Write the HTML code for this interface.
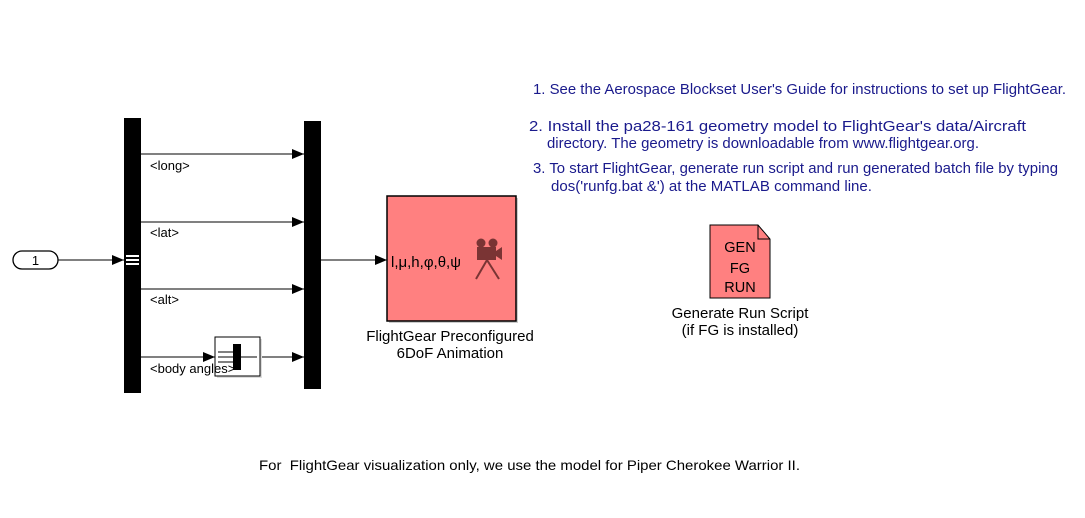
<!DOCTYPE html>
<html><head><meta charset="utf-8"><style>
html,body{margin:0;padding:0;background:#fff;}
svg{display:block;}
text{font-family:"Liberation Sans",Arial,sans-serif;}
</style></head><body>
<svg width="1085" height="518" viewBox="0 0 1085 518" xmlns="http://www.w3.org/2000/svg">
<defs>
<marker id="a" markerWidth="12" markerHeight="10" refX="12" refY="5" orient="auto" markerUnits="userSpaceOnUse"><path d="M0,0 L12,5 L0,10 Z" fill="#000"/></marker>
</defs>
<rect x="13" y="251" width="45" height="18" rx="9" ry="9" fill="#fff" stroke="#000" stroke-width="1.3"/>
<text x="35.5" y="265" font-size="13" text-anchor="middle">1</text>
<line x1="58" y1="260" x2="124" y2="260" stroke="#000" marker-end="url(#a)"/>
<rect x="124" y="118" width="17" height="275" fill="#000"/>
<rect x="126" y="255" width="13" height="2" fill="#fff"/>
<rect x="126" y="259" width="13" height="2" fill="#fff"/>
<rect x="126" y="263" width="13" height="2" fill="#fff"/>
<rect x="304" y="121" width="17" height="268" fill="#000"/>
<line x1="141" y1="154" x2="304" y2="154" stroke="#000" marker-end="url(#a)"/>
<line x1="141" y1="222" x2="304" y2="222" stroke="#000" marker-end="url(#a)"/>
<line x1="141" y1="289" x2="304" y2="289" stroke="#000" marker-end="url(#a)"/>
<line x1="141" y1="357" x2="215" y2="357" stroke="#000" marker-end="url(#a)"/>
<line x1="260" y1="357" x2="304" y2="357" stroke="#000" marker-end="url(#a)"/>
<text x="150" y="170" font-size="13">&lt;long&gt;</text>
<text x="150" y="237" font-size="13">&lt;lat&gt;</text>
<text x="150" y="304" font-size="13">&lt;alt&gt;</text>
<rect x="217" y="339" width="45" height="39" fill="#ddd"/>
<rect x="215" y="337" width="45" height="39" fill="#fff" stroke="#000"/>
<rect x="233" y="344" width="8" height="26" fill="#000"/>
<line x1="218" y1="352" x2="233" y2="352" stroke="#000"/>
<line x1="218" y1="357" x2="233" y2="357" stroke="#000"/>
<line x1="218" y1="362" x2="233" y2="362" stroke="#000"/>
<line x1="241" y1="357" x2="257" y2="357" stroke="#000"/>
<text x="150" y="373" font-size="13">&lt;body angles&gt;</text>
<line x1="321" y1="260" x2="387" y2="260" stroke="#000" marker-end="url(#a)"/>
<rect x="389" y="198" width="129" height="125" fill="#ccc"/>
<rect x="387" y="196" width="129" height="125" fill="#ff8080" stroke="#000" stroke-width="1.5"/>
<text x="391" y="267" font-size="15">l,μ,h,φ,θ,ψ</text>
<g fill="#7a3434" stroke="#7a3434">
<circle cx="481" cy="243" r="4.5" stroke="none"/>
<circle cx="493" cy="243" r="4.5" stroke="none"/>
<rect x="477" y="247" width="19" height="13" stroke="none"/>
<path d="M496,251 L502,247 L502,260 L496,256 Z" stroke="none"/>
<line x1="487" y1="260" x2="476" y2="279" stroke-width="2"/>
<line x1="487" y1="260" x2="499" y2="279" stroke-width="2"/>
</g>
<text x="450" y="341" font-size="15" text-anchor="middle">FlightGear Preconfigured</text>
<text x="450" y="358" font-size="15" text-anchor="middle">6DoF Animation</text>
<path d="M710,225 L758,225 L770,239 L770,298 L710,298 Z" fill="#ff8080" stroke="#000"/>
<path d="M758,225 L758,239 L770,239" fill="none" stroke="#000"/>
<text x="740" y="252" font-size="14.5" text-anchor="middle">GEN</text>
<text x="740" y="273" font-size="14.5" text-anchor="middle">FG</text>
<text x="740" y="292" font-size="14.5" text-anchor="middle">RUN</text>
<text x="740" y="318" font-size="15" text-anchor="middle">Generate Run Script</text>
<text x="740" y="335" font-size="15" text-anchor="middle">(if FG is installed)</text>
<g fill="#1a1a8c" font-size="14.5">
<text x="533" y="94" textLength="533" lengthAdjust="spacingAndGlyphs">1. See the Aerospace Blockset User's Guide for instructions to set up FlightGear.</text>
<text x="529" y="131" textLength="497" lengthAdjust="spacingAndGlyphs">2. Install the pa28-161 geometry model to FlightGear's data/Aircraft</text>
<text x="547" y="148" textLength="432" lengthAdjust="spacingAndGlyphs">directory. The geometry is downloadable from www.flightgear.org.</text>
<text x="533" y="173" textLength="525" lengthAdjust="spacingAndGlyphs">3. To start FlightGear, generate run script and run generated batch file by typing</text>
<text x="551" y="191" textLength="321" lengthAdjust="spacingAndGlyphs">dos('runfg.bat &amp;') at the MATLAB command line.</text>
</g>
<text x="259" y="470" font-size="14" textLength="541" lengthAdjust="spacingAndGlyphs" xml:space="preserve">For  FlightGear visualization only, we use the model for Piper Cherokee Warrior II.</text>
</svg>
</body></html>
